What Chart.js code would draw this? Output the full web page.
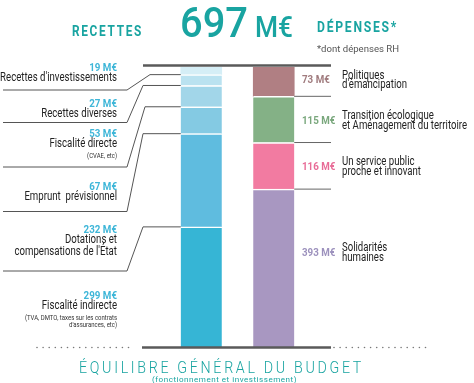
<!DOCTYPE html>
<html>
<head>
<meta charset="utf-8">
<script src="https://cdn.jsdelivr.net/npm/chart.js@4"></script>
<style>
  body { margin: 0; background: #fff; }
  canvas { display: block; }
</style>
</head>
<body>
<canvas id="budget" width="474" height="383"></canvas>
<script>
const categories = ["Recettes", "Dépenses"];

// recettes, from top of the bar to the bottom
const recettesValues = [19, 27, 53, 67, 232, 299];
const recettesNames = [
  "Recettes d'investissements",
  "Recettes diverses",
  "Fiscalité directe",
  "Emprunt  prévisionnel",
  "Dotations et\ncompensations de l'État",
  "Fiscalité indirecte"
];
const recettesNotes = ["", "", "(CVAE, etc)", "", "", "(TVA, DMTO, taxes sur les contrats\nd'assurances, etc)"];

// dépenses, from top of the bar to the bottom
const depensesValues = [73, 115, 116, 393];
const depensesNames = [
  "Politiques\nd'émancipation",
  "Transition écologique\net Aménagement du territoire",
  "Un service public\nproche et innovant",
  "Solidarités\nhumaines"
];

const recettesColors = ["#d5eef6", "#bae2f0", "#a2d6e9", "#84cae3", "#5fbcdf", "#36b5d5"];
const depensesColors = ["#b07f83", "#84b186", "#f27ba1", "#a897c1"];
const depensesTextColors = ["#a07b7e", "#79a77c", "#e86c97", "#9c91bd"];

const TEAL = "#19a4a1";
const total = recettesValues.reduce((a, b) => a + b, 0);

function sumBelow(arr, i) {
  let s = 0;
  for (let k = i + 1; k < arr.length; k++) s += arr[k];
  return s;
}

// draw text, optionally squeezed to a given width
function txt(ctx, s, x, y, o) {
  ctx.save();
  ctx.font = o.font;
  ctx.fillStyle = o.color || "#222";
  ctx.textBaseline = o.base || "middle";
  ctx.textAlign = "left";
  if (o.ls) ctx.letterSpacing = o.ls;
  let w = ctx.measureText(s).width;
  let sx = o.w ? o.w / w : (o.sx || 1);
  let drawW = w * sx;
  let left = x;
  if (o.align === "right") left = x - drawW;
  if (o.align === "center") left = x - drawW / 2;
  ctx.translate(left, y);
  ctx.scale(sx, 1);
  ctx.fillText(s, 0, 0);
  ctx.restore();
}

function line(ctx, pts, color, width) {
  ctx.save();
  ctx.strokeStyle = color;
  ctx.lineWidth = width;
  ctx.beginPath();
  ctx.moveTo(pts[0][0], pts[0][1]);
  for (let i = 1; i < pts.length; i++) ctx.lineTo(pts[i][0], pts[i][1]);
  ctx.stroke();
  ctx.restore();
}

const decor = {
  id: "decor",
  afterDraw(chart) {
    const ctx = chart.ctx;
    const y = chart.scales.y;
    const area = chart.chartArea;
    const FONT = "Roboto, 'DejaVu Sans', sans-serif";

    // bar edges from the chart's own elements
    const recMeta = chart.getDatasetMeta(0).data[0];
    const depMeta = chart.getDatasetMeta(recettesValues.length).data[1];
    const recLeft = recMeta.x - recMeta.width / 2;
    const depRight = depMeta.x + depMeta.width / 2;

    // header
    txt(ctx, "RECETTES", 72, 32, { font: "bold 14px " + FONT, color: TEAL, w: 71, ls: "2px" });
    txt(ctx, String(total), 180, 37, { font: "500 42px " + FONT, color: TEAL, w: 68, base: "alphabetic" });
    txt(ctx, "M€", 255, 37, { font: "500 29px " + FONT, color: TEAL, w: 38, base: "alphabetic" });
    txt(ctx, "DÉPENSES*", 317, 28, { font: "bold 14px " + FONT, color: TEAL, w: 81, ls: "2px" });
    txt(ctx, "*dont dépenses RH", 317, 50, { font: "9px " + FONT, color: "#555", w: 82 });

    // top and bottom rules
    line(ctx, [[143, area.top - 1.5], [331, area.top - 1.5]], "#5a5a5a", 2.5);
    line(ctx, [[142, area.bottom + 0.5], [331, area.bottom + 0.5]], "#5a5a5a", 2.5);
    ctx.save();
    ctx.fillStyle = "#777";
    for (let x = 37; x <= 134; x += 6.1) { ctx.beginPath(); ctx.arc(x, area.bottom + 0.5, 0.8, 0, Math.PI * 2); ctx.fill(); }
    for (let x = 334; x <= 431; x += 6.1) { ctx.beginPath(); ctx.arc(x, area.bottom + 0.5, 0.8, 0, Math.PI * 2); ctx.fill(); }
    ctx.restore();

    // left labels and leader lines
    const valueY = [68, 104, 134, 187, 230, 296];
    const underY = [90, 122.5, 167, 211.5, 271];
    const elbowX = [150, 143, 145, 143, 143];
    for (let i = 0; i < recettesValues.length; i++) {
      let vy = valueY[i];
      txt(ctx, recettesValues[i] + " M€", 117, vy, { font: "bold 11.5px " + FONT, color: "#3eb6d8", align: "right", sx: 0.85 });
      let ly = vy + 10;
      recettesNames[i].split("\n").forEach((s, k) => {
        if (k > 0) ly += 12;
        txt(ctx, s, 117, ly, { font: "12.5px " + FONT, color: "#222", align: "right", sx: 0.77 });
      });
      if (recettesNotes[i]) {
        ly += 12;
        recettesNotes[i].split("\n").forEach((s, k) => {
          if (k > 0) ly += 7.5;
          txt(ctx, s, 117, ly, { font: "7.5px " + FONT, color: "#333", align: "right", sx: 0.8 });
        });
      }
      if (i < underY.length) {
        const yb = y.getPixelForValue(sumBelow(recettesValues, i));
        line(ctx, [[recLeft, yb], [elbowX[i], yb], [127, underY[i]], [3, underY[i]]], "#555", 1);
      }
    }

    // right labels and leader lines
    const depY = [80.5, 121, 167, 253];
    for (let i = 0; i < depensesValues.length; i++) {
      let vy = depY[i];
      txt(ctx, depensesValues[i] + " M€", 302, vy, { font: "bold 11.5px " + FONT, color: depensesTextColors[i], sx: 0.85 });
      depensesNames[i].split("\n").forEach((s, k) => {
        txt(ctx, s, 342, vy - 5 + k * 9.5, { font: "12px " + FONT, color: "#222", sx: 0.8 });
      });
      if (i < depensesValues.length - 1) {
        const yb = y.getPixelForValue(sumBelow(depensesValues, i));
        line(ctx, [[depRight, yb], [331, yb]], "#666", 1);
      }
    }

    // footer
    txt(ctx, "ÉQUILIBRE GÉNÉRAL DU BUDGET", 79, 373, { font: "300 16px " + FONT, color: TEAL, w: 285, ls: "3px", base: "alphabetic" });
    txt(ctx, "(fonctionnement et investissement)", 152, 380, { font: "8px " + FONT, color: TEAL, w: 145, ls: "0.5px" });
  }
};

// stacked bars: first dataset sits at the bottom
const datasets = [];
for (let i = recettesValues.length - 1; i >= 0; i--) {
  datasets.push({
    label: recettesNames[i],
    data: [recettesValues[i], null],
    backgroundColor: recettesColors[i],
    borderColor: "#fff",
    borderWidth: { top: i === 0 ? 0 : 1.5, bottom: 0, left: 0, right: 0 },
    borderSkipped: false
  });
}
for (let i = depensesValues.length - 1; i >= 0; i--) {
  datasets.push({
    label: depensesNames[i],
    data: [null, depensesValues[i]],
    backgroundColor: depensesColors[i],
    borderColor: "#fff",
    borderWidth: { top: i === 0 ? 0 : 1.5, bottom: 0, left: 0, right: 0 },
    borderSkipped: false
  });
}

new Chart(document.getElementById("budget"), {
  type: "bar",
  data: { labels: categories, datasets: datasets },
  options: {
    responsive: false,
    animation: false,
    devicePixelRatio: 1,
    barThickness: 41,
    layout: { padding: { left: 165, right: 164, top: 67, bottom: 36 } },
    plugins: { legend: { display: false }, tooltip: { enabled: false } },
    scales: {
      x: { stacked: true, display: false },
      y: { stacked: true, display: false, min: 0, max: total }
    }
  },
  plugins: [decor]
});
</script>
</body>
</html>
